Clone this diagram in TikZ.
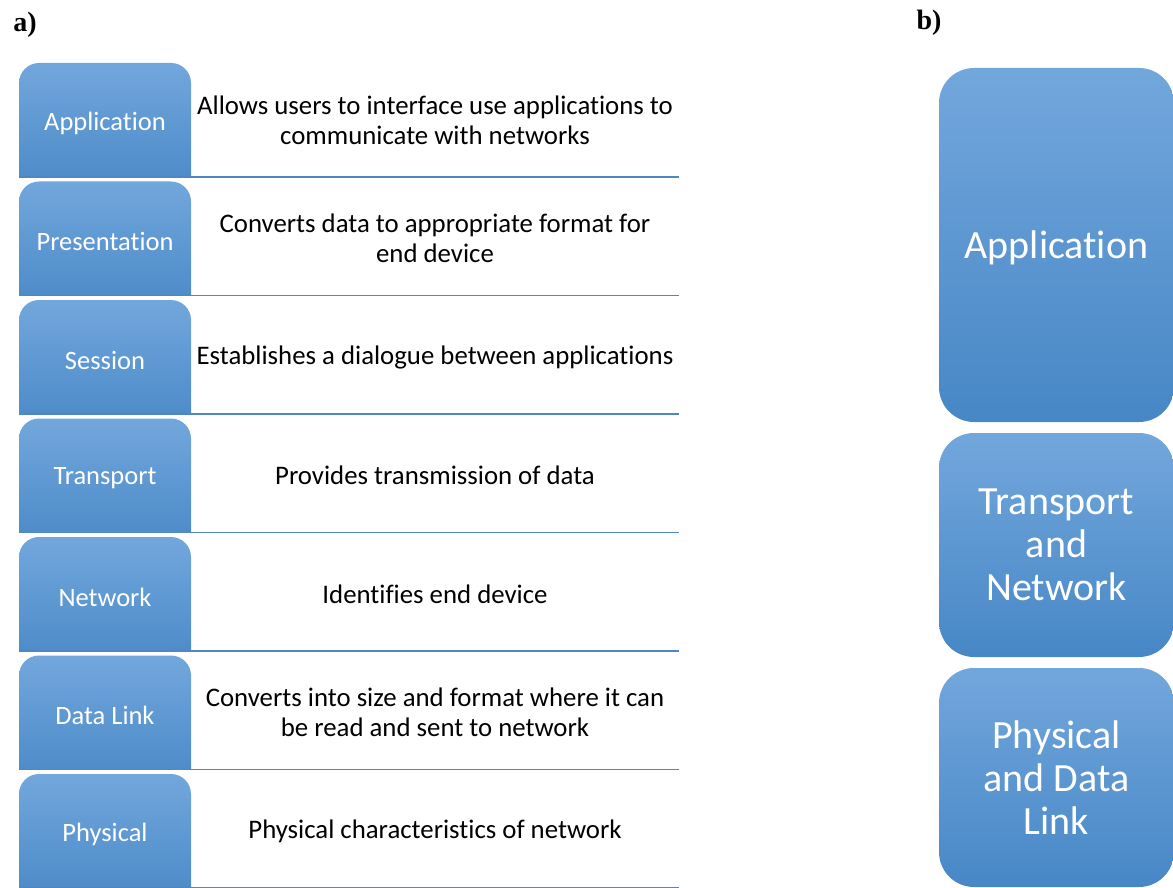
\documentclass[tikz,border=0pt]{standalone}
\usepackage{fontspec}
\setmainfont{Carlito}[Ligatures=NoCommon]
\newfontfamily\timesf{Liberation Serif}
\definecolor{btop}{HTML}{72A7DC}
\definecolor{bmid}{HTML}{5B9BD5}
\definecolor{bbot}{HTML}{4787C6}
\definecolor{rule}{HTML}{4F87C4}
\tikzset{
  boxshade/.style={top color=btop, middle color=bmid, bottom color=bbot},
  lbl/.style={text=white, font=\fontsize{26.5}{30}\selectfont, inner sep=0pt},
  desc/.style={text=black, font=\fontsize{26.8}{30}\selectfont, align=center, inner sep=0pt},
  rlbl/.style={text=white, font=\fontsize{40}{43}\selectfont, align=center, inner sep=0pt},
  bigbox/.style={boxshade, rounded corners=35pt, minimum width=235pt, inner sep=0pt},
  rowline/.style={draw=rule, line width=1.5pt},
  panel/.style={font=\timesf\bfseries\fontsize{28}{30}\selectfont, inner sep=0pt}
}
\begin{document}
\begin{tikzpicture}[x=1pt,y=-1pt]
\useasboundingbox (0,0) rectangle (1173,888);
\node[panel] (pa) at (25,25) {a)};
\node[panel] (pb) at (929,23) {b)};
\foreach \i/\lab/\txt in {
  0/Application/{Allows users to interface use applications to\\communicate with networks},
  1/Presentation/{Converts data to appropriate format for\\end device},
  2/Session/{Establishes a dialogue between applications},
  3/Transport/{Provides transmission of data},
  4/Network/{Identifies end device},
  5/Data Link/{Converts into size and format where it can\\be read and sent to network},
  6/Physical/{Physical characteristics of network}} {
  \pgfmathsetmacro{\yt}{63+118.5*\i}
  \pgfmathsetmacro{\yb}{\yt+114}
  \pgfmathsetmacro{\yc}{\yt+57}
  \begin{scope}
    \clip (19,\yt) rectangle (191,\yb);
    \shade[boxshade, rounded corners=20pt] (19,\yt) rectangle (191,\yb+22);
  \end{scope}
  \draw[rowline] (19,\yb) -- (679,\yb);
  \node[lbl] (L\i) at (105,\yc+3) {\lab};
  \node[desc] (D\i) at (435,\yc) {\txt};
}
\node[bigbox, minimum height=354pt] (R1) at (1056.5,245) {};
\node[rlbl] (R1t) at ([yshift=-3pt]R1.center) {Application};
\node[bigbox, minimum height=224pt] (R2) at (1056.5,545) {};
\node[rlbl] (R2t) at (R2.center) {Transport\\and\\Network};
\node[bigbox, minimum height=219pt] (R3) at (1056.5,777.5) {};
\node[rlbl] (R3t) at (R3.center) {Physical\\and Data\\Link};
\end{tikzpicture}
\end{document}
